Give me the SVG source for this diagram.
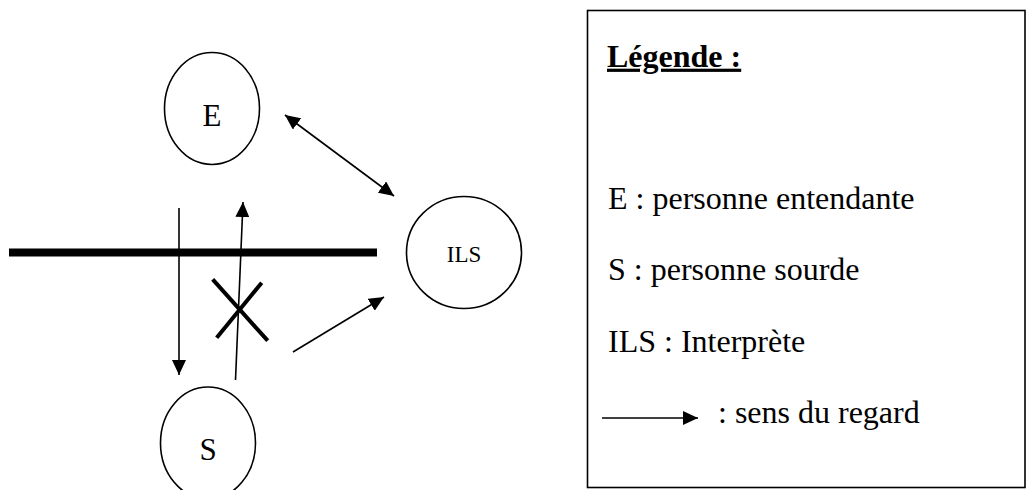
<svg xmlns="http://www.w3.org/2000/svg" width="1027" height="490" viewBox="0 0 1027 490">
<style>
.node{fill:#fff;stroke:#000;stroke-width:1.6}
.lbl{font-family:"Liberation Serif","Times New Roman",serif;fill:#000;text-anchor:middle}
.leg{font-family:"Liberation Serif","Times New Roman",serif;fill:#000;font-size:32px}
.arr{stroke:#000;stroke-width:1.6;fill:none;marker-end:url(#ah)}
.cross{stroke:#000;stroke-width:4}
</style>
<defs>
<marker id="ah" viewBox="0 0 15 14" markerWidth="15" markerHeight="14" refX="15" refY="7" orient="auto-start-reverse" markerUnits="userSpaceOnUse">
<path d="M0,0 L15,7 L0,14 z" fill="#000"/>
</marker>
</defs>
<rect width="1027" height="490" fill="#fff"/>
<g id="node-E">
<ellipse class="node" cx="212" cy="108.5" rx="47.5" ry="56"/>
<text class="lbl" x="212" y="126" font-size="31">E</text>
</g>
<g id="node-S">
<ellipse class="node" cx="208" cy="443" rx="47.5" ry="56"/>
<text class="lbl" x="208" y="460" font-size="31">S</text>
</g>
<g id="node-ILS">
<ellipse class="node" cx="464" cy="252.5" rx="57.5" ry="56"/>
<text class="lbl" x="464" y="262" font-size="23">ILS</text>
</g>
<g id="barrier">
<line x1="9" y1="252.5" x2="377" y2="252.5" stroke="#000" stroke-width="8"/>
</g>
<g id="connectors">
<line class="arr" x1="179" y1="208" x2="179" y2="375"/>
<line class="arr" x1="235.5" y1="380" x2="243" y2="202"/>
<line class="arr" x1="293" y1="352" x2="384" y2="297"/>
<line class="arr" x1="285" y1="115" x2="394" y2="196" style="marker-start:url(#ah)"/>
<line class="cross" x1="212.7" y1="279.3" x2="267.7" y2="340.7"/>
<line class="cross" x1="261.7" y1="282.7" x2="216.7" y2="337.7"/>
</g>
<g id="legend">
<rect x="587.5" y="10.5" width="437.5" height="477" fill="none" stroke="#000" stroke-width="1.6"/>
<text class="leg" x="607" y="66.7" font-weight="bold" text-decoration="underline">Légende :</text>
<text class="leg" x="608" y="209.3">E : personne entendante</text>
<text class="leg" x="608" y="280">S : personne sourde</text>
<text class="leg" x="608" y="351.7">ILS : Interprète</text>
<line class="arr" x1="602" y1="418" x2="698" y2="418"/>
<text class="leg" x="718" y="422.7">: sens du regard</text>
</g>
</svg>
